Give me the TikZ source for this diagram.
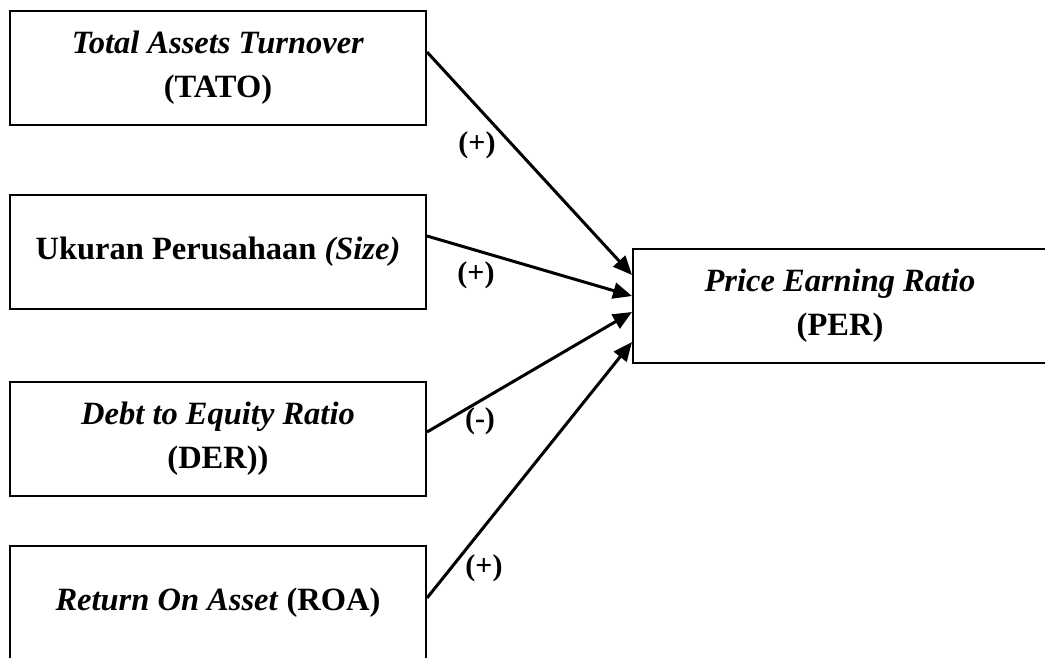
\documentclass[tikz,border=0pt]{standalone}
\usepackage{fontspec}
\setmainfont{Liberation Serif}
\usetikzlibrary{arrows.meta}

\tikzset{
  varbox/.style={draw, line width=2pt, minimum width=416pt, minimum height=114pt, align=center, inner sep=0pt, font=\fontsize{32.5}{44}\selectfont\bfseries},
  link/.style={line width=3pt, -{Triangle[length=19pt,width=16pt]}},
  sign/.style={inner sep=0.75pt, font=\fontsize{30}{32}\selectfont\bfseries}
}

\begin{document}
\begin{tikzpicture}[x=1pt,y=1pt,yscale=-1,xscale=1]
    \useasboundingbox (0,0) rectangle (1045,657);

    %Shape: Rectangle [id:tato]
    \node [varbox] (tato) at (218,68) {\textit{Total Assets Turnover}\\(TATO)};
    %Shape: Rectangle [id:size]
    \node [varbox] (size) at (218,252) {Ukuran Perusahaan \textit{(Size)}};
    %Shape: Rectangle [id:der]
    \node [varbox] (der) at (218,438.5) {\textit{Debt to Equity Ratio}\\(DER))};
    %Shape: Rectangle [id:roa]
    \node [varbox] (roa) at (218,603) {\textit{Return On Asset} (ROA)};
    %Shape: Rectangle [id:per]
    \node [varbox, minimum width=414pt] (per) at (840,305.5) {\textit{Price Earning Ratio}\\(PER)};

    %Straight Lines
    \draw [link] ([yshift=-16pt]tato.east) -- ([yshift=-30.5pt]per.west);
    \draw [link] ([yshift=-16pt]size.east) -- ([yshift=-9.5pt]per.west);
    \draw [link] ([yshift=-6.5pt]der.east) -- ([yshift=6.5pt]per.west);
    \draw [link] ([yshift=-5pt]roa.east) -- ([yshift=36.5pt]per.west);

    % Text Node
    \node [sign] (s1) at (477,145) {(+)};
    % Text Node
    \node [sign] (s2) at (476,275) {(+)};
    % Text Node
    \node [sign] (s3) at (480,421) {(-)};
    % Text Node
    \node [sign] (s4) at (484,568) {(+)};
\end{tikzpicture}
\end{document}
